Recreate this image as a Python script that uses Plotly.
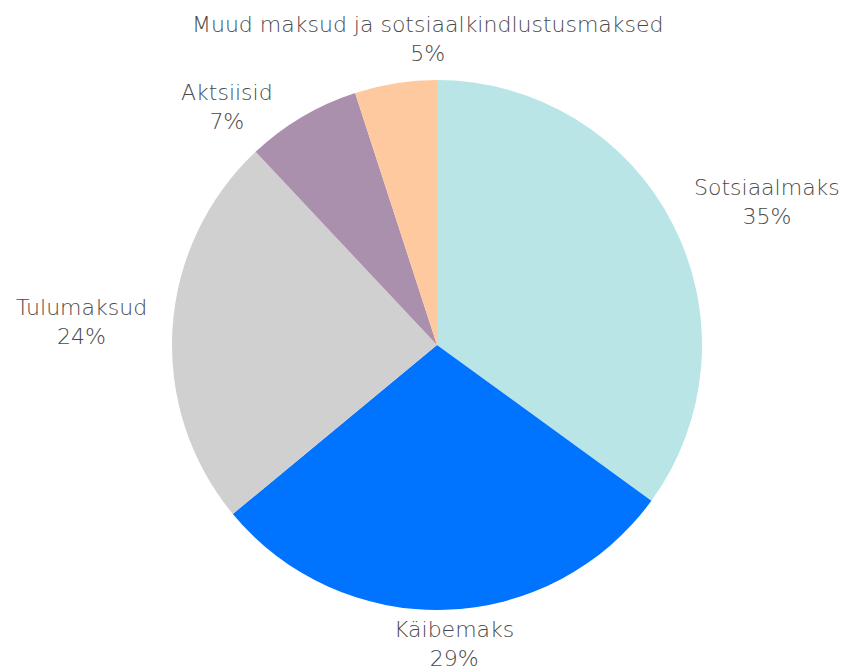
import plotly.graph_objects as go

labels = ["Sotsiaalmaks", "Käibemaks", "Tulumaksud", "Aktsiisid",
          "Muud maksud ja sotsiaalkindlustusmaksed"]
values = [35, 29, 24, 7, 5]
colors = ["#b9e5e7", "#0073ff", "#d0d0d0", "#ab90ae", "#ffc99f"]

# where each label block sits, in paper coords (layout only)
label_pos = [(1.122, 0.770), (0.532, -0.064), (-0.171, 0.543),
             (0.104, 0.949), (0.483, 1.077)]

font = dict(family="DejaVu Sans", size=22, color="#4a4a4a", weight=300)

fig = go.Figure(go.Pie(
    labels=labels,
    values=values,
    sort=False,
    direction="clockwise",
    rotation=0,
    marker=dict(colors=colors, line=dict(width=0)),
    textinfo="none",
    hoverinfo="label+percent",
    showlegend=False,
))

# plotly's own outside labels get pushed around, so place them by hand
total = sum(values)
for lab, val, (px, py) in zip(labels, values, label_pos):
    fig.add_annotation(
        text=f"{lab}<br>{val / total:.0%}",
        xref="paper", yref="paper", x=px, y=py,
        xanchor="center", yanchor="middle", showarrow=False, font=font,
    )

fig.update_layout(
    width=847, height=671,
    margin=dict(l=164, r=153, t=72, b=69),
    paper_bgcolor="white",
    plot_bgcolor="white",
)

fig.write_html("out.html")
